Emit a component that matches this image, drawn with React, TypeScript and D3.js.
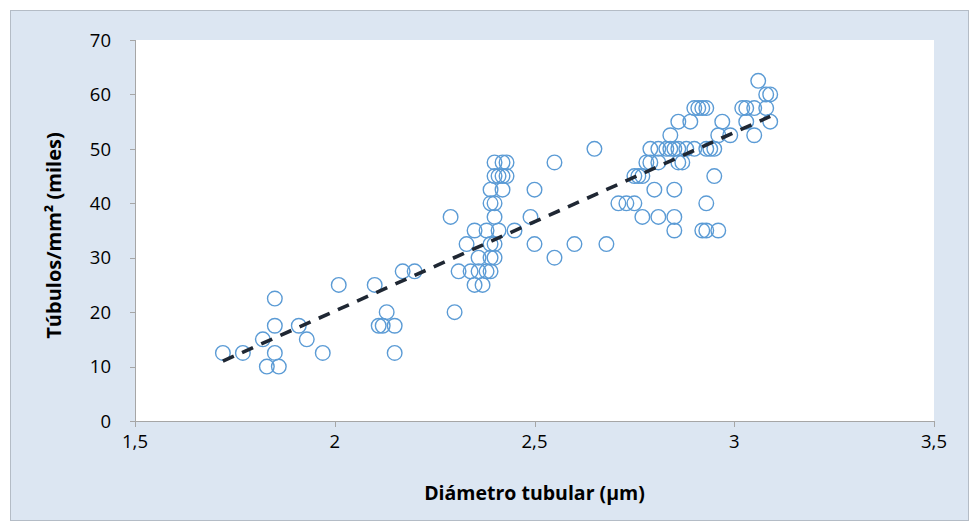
import React from "react";
import * as d3 from "d3";

// diámetro tubular (µm) and túbulos/mm² (miles)
const diam = [
  1.72, 1.77, 1.85, 1.97, 2.15,
  1.83, 1.86,
  1.82, 1.93,
  1.85, 1.91, 2.11, 2.12, 2.15,
  1.85,
  2.13, 2.30,
  2.01, 2.10, 2.35, 2.37,
  2.17, 2.20, 2.31, 2.34, 2.36, 2.38, 2.39,
  2.36, 2.39, 2.40, 2.55,
  2.33, 2.39, 2.40, 2.50, 2.60, 2.68,
  2.35, 2.38, 2.41, 2.45, 2.85, 2.92, 2.93, 2.96,
  2.29, 2.40, 2.49, 2.77, 2.81, 2.85,
  2.39, 2.40, 2.71, 2.73, 2.75, 2.93,
  2.39, 2.42, 2.50, 2.80, 2.85,
  2.40, 2.41, 2.42, 2.43, 2.75, 2.76, 2.77, 2.95,
  2.40, 2.42, 2.43, 2.55, 2.78, 2.79, 2.81, 2.86, 2.87,
  2.65, 2.79, 2.81, 2.83, 2.84, 2.85, 2.86, 2.88, 2.90, 2.93, 2.94, 2.95,
  2.84, 2.96, 2.99, 3.05,
  2.86, 2.89, 2.97, 3.03, 3.09,
  2.90, 2.91, 2.92, 2.93, 3.02, 3.03, 3.05, 3.08,
  3.08, 3.09,
  3.06,
];
const tubulos = [
  12.5, 12.5, 12.5, 12.5, 12.5,
  10, 10,
  15, 15,
  17.5, 17.5, 17.5, 17.5, 17.5,
  22.5,
  20, 20,
  25, 25, 25, 25,
  27.5, 27.5, 27.5, 27.5, 27.5, 27.5, 27.5,
  30, 30, 30, 30,
  32.5, 32.5, 32.5, 32.5, 32.5, 32.5,
  35, 35, 35, 35, 35, 35, 35, 35,
  37.5, 37.5, 37.5, 37.5, 37.5, 37.5,
  40, 40, 40, 40, 40, 40,
  42.5, 42.5, 42.5, 42.5, 42.5,
  45, 45, 45, 45, 45, 45, 45, 45,
  47.5, 47.5, 47.5, 47.5, 47.5, 47.5, 47.5, 47.5, 47.5,
  50, 50, 50, 50, 50, 50, 50, 50, 50, 50, 50, 50,
  52.5, 52.5, 52.5, 52.5,
  55, 55, 55, 55, 55,
  57.5, 57.5, 57.5, 57.5, 57.5, 57.5, 57.5, 57.5,
  60, 60,
  62.5,
];

const xTicks = [1.5, 2, 2.5, 3, 3.5];
const yTicks = [0, 10, 20, 30, 40, 50, 60, 70];

const W = 979;
const H = 531;
const plot = { left: 135, right: 934, top: 40, bottom: 421 };
const font = "'Open Sans', 'Noto Sans', sans-serif";
const axisGray = "#a6a6a6";

const fmt = (v: number) => String(v).replace(".", ",");

export default function App() {
  const x = d3.scaleLinear().domain([1.5, 3.5]).range([plot.left, plot.right]);
  const y = d3.scaleLinear().domain([0, 70]).range([plot.bottom, plot.top]);

  const points = diam.map((d, i) => ({ d, t: tubulos[i] }));

  // linear trend line (least squares), like excel's
  const mx = d3.mean(diam) as number;
  const my = d3.mean(tubulos) as number;
  let sxy = 0;
  let sxx = 0;
  points.forEach((p) => {
    sxy += (p.d - mx) * (p.t - my);
    sxx += (p.d - mx) * (p.d - mx);
  });
  const slope = sxy / sxx;
  const icpt = my - slope * mx;
  const [x0, x1] = d3.extent(diam) as [number, number];
  const trend = d3.line<number>()
    .x((v) => x(v))
    .y((v) => y(icpt + slope * v))([x0, x1]);

  return (
    <svg width={W} height={H} style={{ position: "absolute", left: 0, top: 0 }}>
      <rect x={10.5} y={10.5} width={958} height={510} fill="#dce6f2" stroke="#b4bcc6" />
      <rect x={plot.left} y={plot.top} width={plot.right - plot.left} height={plot.bottom - plot.top} fill="#fff" />

      {/* y axis */}
      <line x1={plot.left + 0.5} x2={plot.left + 0.5} y1={plot.top} y2={plot.bottom} stroke={axisGray} />
      {yTicks.map((t) => (
        <g key={"y" + t}>
          <line x1={plot.left - 5} x2={plot.left} y1={Math.round(y(t)) + 0.5} y2={Math.round(y(t)) + 0.5} stroke={axisGray} />
          <text x={plot.left - 24} y={y(t)} dy="0.36em" textAnchor="end" fontFamily={font} fontSize={18.5} fill="#000">
            {t}
          </text>
        </g>
      ))}

      {/* x axis */}
      <line x1={plot.left} x2={plot.right} y1={plot.bottom + 0.5} y2={plot.bottom + 0.5} stroke={axisGray} />
      {xTicks.map((t) => (
        <g key={"x" + t}>
          <line x1={Math.round(x(t)) + 0.5} x2={Math.round(x(t)) + 0.5} y1={plot.bottom} y2={plot.bottom + 6} stroke={axisGray} />
          <text x={x(t)} y={448} textAnchor="middle" fontFamily={font} fontSize={18.5} fill="#000">
            {fmt(t)}
          </text>
        </g>
      ))}

      {points.map((p, i) => (
        <circle key={i} cx={x(p.d)} cy={y(p.t)} r={7.3} fill="none" stroke="#5b9bd5" strokeWidth={1.4} />
      ))}

      <path d={trend ?? ""} fill="none" stroke="#1f2733" strokeWidth={3.6} strokeDasharray="12 9" />

      <text x={(plot.left + plot.right) / 2} y={500} textAnchor="middle" fontFamily={font} fontSize={19.5} fontWeight="bold" fill="#000">
        Diámetro tubular (µm)
      </text>
      <text
        transform={`translate(61, ${(plot.top + plot.bottom) / 2 + 5}) rotate(-90)`}
        textAnchor="middle"
        fontFamily={font}
        fontSize={20}
        fontWeight="bold"
        fill="#000"
      >
        Túbulos/mm² (miles)
      </text>
    </svg>
  );
}
